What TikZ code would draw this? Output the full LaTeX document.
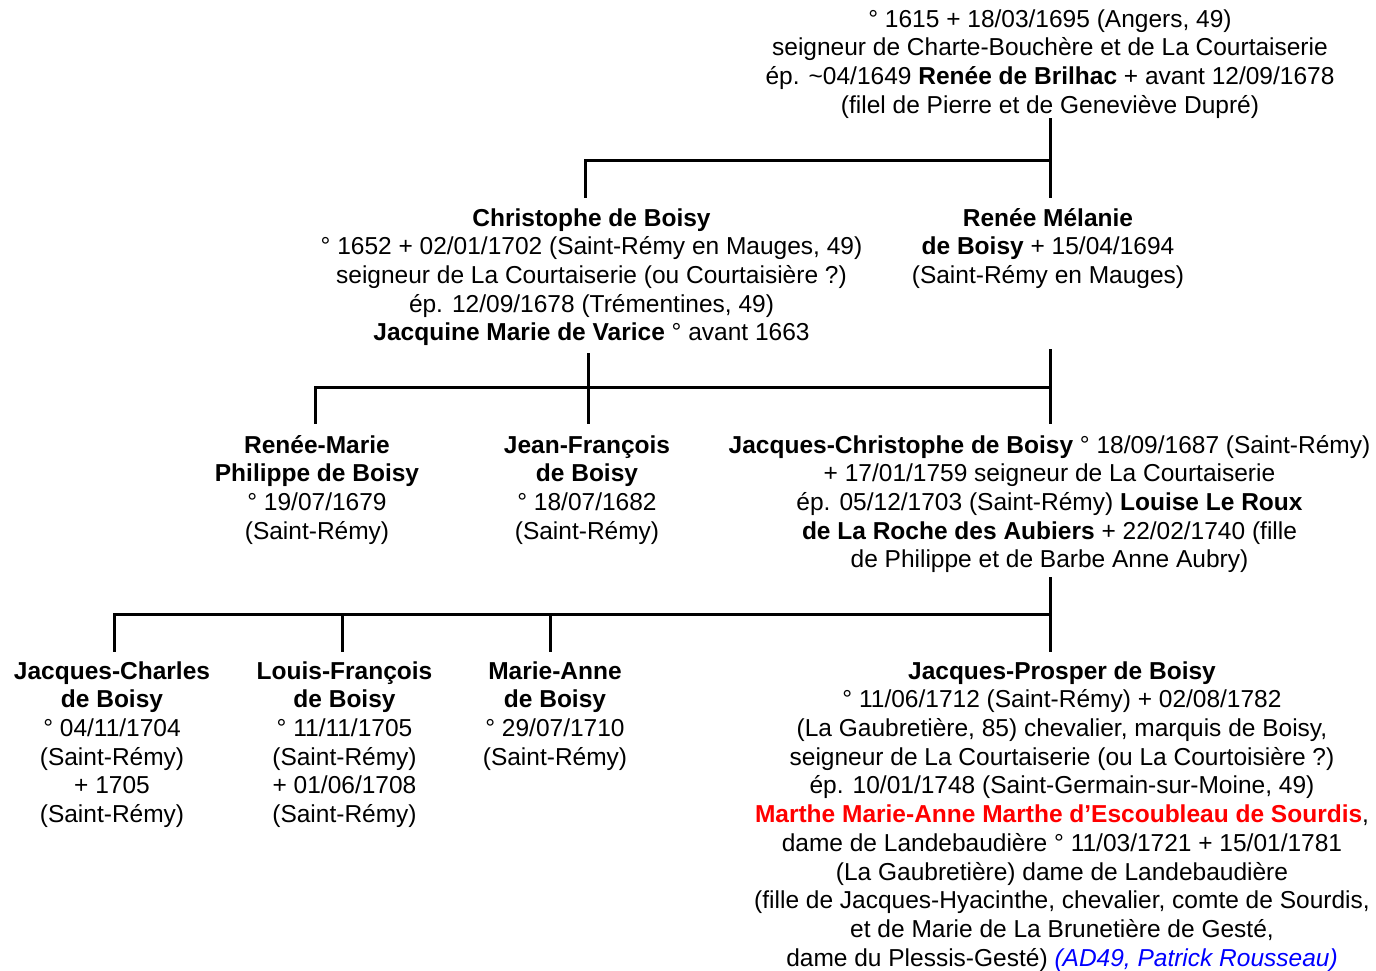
\documentclass[tikz,border=0pt]{standalone}
\usepackage{fontspec}
\setmainfont{Liberation Sans}
\definecolor{rouge}{RGB}{255,0,0}
\definecolor{bleu}{RGB}{0,0,255}
\tikzset{
  x=1pt, y=-1pt,
  person/.style={anchor=north, align=center, inner sep=0pt, outer sep=0pt,
    font=\fontsize{24.5}{28.7}\selectfont},
  link/.style={draw=black, line width=3pt, line cap=rect},
}
\begin{document}
\begin{tikzpicture}
\useasboundingbox (0,0) rectangle (1376,970);
\clip (0,0) rectangle (1376,970);

% generation 1
\node[person] (top) at (1050,7) {\strut° 1615 + 18/03/1695 (Angers, 49)\\
seigneur de Charte-Bouchère et de La Courtaiserie\\
ép. \textasciitilde04/1649 \textbf{Renée de Brilhac} + avant 12/09/1678\\
(filel de Pierre et de Geneviève Dupré)\strut};

% generation 2
\node[person] (christophe) at (591.5,206) {\strut\textbf{Christophe de Boisy}\\
° 1652 + 02/01/1702 (Saint-Rémy en Mauges, 49)\\
seigneur de La Courtaiserie (ou Courtaisière ?)\\
ép. 12/09/1678 (Trémentines, 49)\\
\textbf{Jacquine Marie de Varice} ° avant 1663\strut};

\node[person] (renee) at (1048,206) {\strut\textbf{Renée Mélanie}\\
\textbf{de Boisy} + 15/04/1694\\
(Saint-Rémy en Mauges)\strut};

% generation 3
\node[person] (reneemarie) at (317,433) {\strut\textbf{Renée-Marie}\\
\textbf{Philippe de Boisy}\\
° 19/07/1679\\
(Saint-Rémy)\strut};

\node[person] (jeanfrancois) at (587,433) {\strut\textbf{Jean-François}\\
\textbf{de Boisy}\\
° 18/07/1682\\
(Saint-Rémy)\strut};

\node[person] (jacqueschristophe) at (1049.5,433) {\strut\textbf{Jacques-Christophe de Boisy} ° 18/09/1687 (Saint-Rémy)\\
+ 17/01/1759 seigneur de La Courtaiserie\\
ép. 05/12/1703 (Saint-Rémy) \textbf{Louise Le Roux}\\
\textbf{de La Roche des Aubiers} + 22/02/1740 (fille\\
de Philippe et de Barbe Anne Aubry)\strut};

% generation 4
\node[person] (jacquescharles) at (112,659) {\strut\textbf{Jacques-Charles}\\
\textbf{de Boisy}\\
° 04/11/1704\\
(Saint-Rémy)\\
+ 1705\\
(Saint-Rémy)\strut};

\node[person] (louisfrancois) at (344.5,659) {\strut\textbf{Louis-François}\\
\textbf{de Boisy}\\
° 11/11/1705\\
(Saint-Rémy)\\
+ 01/06/1708\\
(Saint-Rémy)\strut};

\node[person] (marieanne) at (555,659) {\strut\textbf{Marie-Anne}\\
\textbf{de Boisy}\\
° 29/07/1710\\
(Saint-Rémy)\strut};

\node[person] (jacquesprosper) at (1062,659) {\strut\textbf{Jacques-Prosper de Boisy}\\
° 11/06/1712 (Saint-Rémy) + 02/08/1782\\
(La Gaubretière, 85) chevalier, marquis de Boisy,\\
seigneur de La Courtaiserie (ou La Courtoisière ?)\\
ép. 10/01/1748 (Saint-Germain-sur-Moine, 49)\\
\textcolor{rouge}{\textbf{Marthe Marie-Anne Marthe d’Escoubleau de Sourdis}},\\
dame de Landebaudière ° 11/03/1721 + 15/01/1781\\
(La Gaubretière) dame de Landebaudière\\
(fille de Jacques-Hyacinthe, chevalier, comte de Sourdis,\\
et de Marie de La Brunetière de Gesté,\\
dame du Plessis-Gesté) \textcolor{bleu}{\textit{(AD49, Patrick Rousseau)}}\strut};

% connectors generation 1 -> 2
\coordinate (bar1) at (1050,160);
\draw[link] ([yshift=2pt]top.south) -- ([yshift=10pt]top.south |- renee.north);
\draw[link] (bar1) -- (bar1 -| 585,0) -- ([xshift=-6.5pt,yshift=10pt]christophe.north);

% connectors generation 2 -> 3
\coordinate (bar2) at (1050,387);
\coordinate (bar2top) at (1050,350);
\draw[link] ([xshift=-3.5pt,yshift=-5pt]christophe.south) -- ([xshift=-3.5pt,yshift=11pt]christophe.south |- jeanfrancois.north);
\draw[link] (bar2top) -- ([yshift=11pt]bar2top |- jacqueschristophe.north);
\draw[link] (bar2) -- (bar2 -| 315,0) -- ([xshift=-2pt,yshift=11pt]reneemarie.north);

% connectors generation 3 -> 4
\coordinate (bar3) at (1050,614);
\draw[link] ([xshift=0.5pt,yshift=-2pt]jacqueschristophe.south) -- ([yshift=9pt]bar3 |- jacquesprosper.north);
\draw[link] (bar3) -- (bar3 -| 114,0) -- ([xshift=2pt,yshift=9pt]jacquescharles.north);
\draw[link] (bar3 -| 342,0) -- ([xshift=-2.5pt,yshift=9pt]louisfrancois.north);
\draw[link] (bar3 -| 550,0) -- ([xshift=-5pt,yshift=9pt]marieanne.north);
\end{tikzpicture}
\end{document}
